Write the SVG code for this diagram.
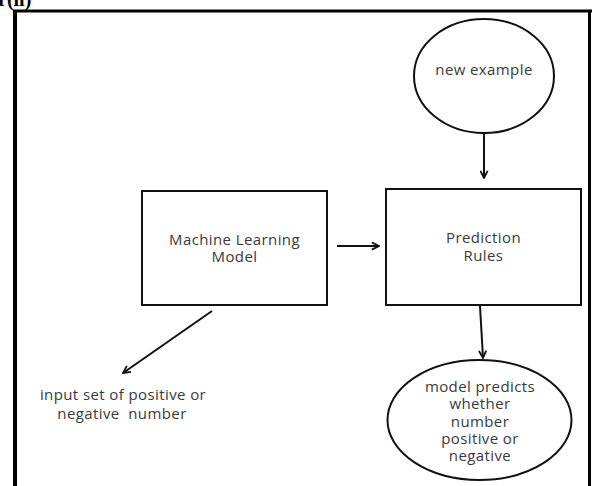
<svg xmlns="http://www.w3.org/2000/svg" width="592" height="486" viewBox="0 0 592 486">
<defs>
<style>
.frame{stroke:#000;fill:none}
.node{fill:#fff;stroke:#111;stroke-width:2}
.lbl{font-family:"Open Sans","Liberation Sans",sans-serif;font-size:15px;letter-spacing:0.4px;fill:#3a3a3a;text-anchor:middle}
.conn{stroke:#111;stroke-width:2;fill:none;marker-end:url(#ah)}
</style>
<marker id="ah" viewBox="0 0 10 10" refX="9" refY="5" markerWidth="4.5" markerHeight="4.5" orient="auto" markerUnits="strokeWidth">
<path d="M1,1 L9,5 L1,9" fill="none" stroke="#111" stroke-width="2"/>
</marker>
</defs>
<rect width="592" height="486" fill="#fff"/>
<text x="-2" y="6" font-family="Liberation Serif,serif" font-weight="bold" font-size="20" fill="#000">r(ii)</text>
<g id="frame">
<line class="frame" x1="15" y1="11" x2="15" y2="486" stroke-width="4"/>
<line class="frame" x1="13" y1="11" x2="592" y2="11" stroke-width="3"/>
<line class="frame" x1="589.5" y1="10" x2="589.5" y2="486" stroke-width="3"/>
</g>
<g id="new-example">
<ellipse class="node" cx="484" cy="76" rx="70" ry="57"/>
<text class="lbl" x="484" y="75">new example</text>
</g>
<g id="ml-model">
<rect class="node" x="142" y="191" width="185" height="114"/>
<text class="lbl" x="234.5" y="245">Machine Learning</text>
<text class="lbl" x="234.5" y="262">Model</text>
</g>
<g id="prediction-rules">
<rect class="node" x="386" y="189" width="195" height="116"/>
<text class="lbl" x="483.5" y="243">Prediction</text>
<text class="lbl" x="483.5" y="261">Rules</text>
</g>
<g id="output">
<ellipse class="node" cx="479.5" cy="420" rx="92" ry="60"/>
<text class="lbl" x="480" y="392">model predicts</text>
<text class="lbl" x="480" y="409">whether</text>
<text class="lbl" x="480" y="427">number</text>
<text class="lbl" x="480" y="444">positive or</text>
<text class="lbl" x="480" y="461">negative</text>
</g>
<g id="input-label">
<text class="lbl" x="123" y="400">input set of positive or</text>
<text class="lbl" x="122" y="419" xml:space="preserve">negative  number</text>
</g>
<g id="connectors">
<line class="conn" x1="484" y1="134" x2="484" y2="178"/>
<line class="conn" x1="337" y1="246" x2="379" y2="246"/>
<line class="conn" x1="480" y1="306" x2="483" y2="358"/>
<line class="conn" x1="212" y1="311" x2="123" y2="373"/>
</g>
</svg>
